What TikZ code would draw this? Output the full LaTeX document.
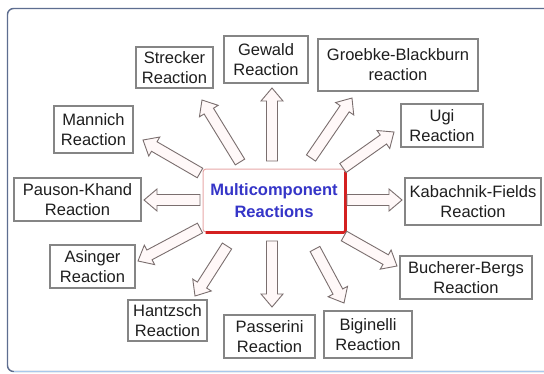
\documentclass[tikz,border=0pt]{standalone}
\usepackage{fontspec}
\setmainfont{Liberation Sans}
\usetikzlibrary{calc}
\definecolor{boxgray}{HTML}{858585}
\definecolor{txt}{HTML}{1E1E1E}
\definecolor{arrowline}{HTML}{7A6E6E}
\definecolor{arrowfill}{HTML}{FFF8F8}
\definecolor{mcblue}{HTML}{3535C8}
\definecolor{mcpink}{HTML}{E8A8A8}
\definecolor{mcred}{HTML}{D42020}
\definecolor{framec}{HTML}{5E6E90}
\definecolor{framelight}{HTML}{A9C8EC}
\newcommand\blockarr[2]{%
  \draw[blockarrow] let \p1=($(#2)-(#1)$), \n1={atan2(\y1,\x1)}, \n2={veclen(\x1,\y1)} in
  {[shift={(#1)}, rotate=\n1] (0pt,-5.5pt) -- (\n2-13pt,-5.5pt) -- (\n2-13pt,-11pt) -- (\n2,0pt)
   -- (\n2-13pt,11pt) -- (\n2-13pt,5.5pt) -- (0pt,5.5pt) -- cycle};}
\begin{document}
\begin{tikzpicture}[x=1pt,y=-1pt,
  rbox/.style={draw=boxgray, line width=1.2pt, fill=white, align=center, text=txt,
    inner sep=1pt, font=\fontsize{16.5}{20}\selectfont},
  blockarrow/.style={draw=arrowline, line width=0.9pt, fill=arrowfill, line join=miter},
  centerbox/.style={draw=mcpink, line width=1pt, fill=white, align=center, text=mcblue,
    rounded corners=3pt, inner sep=1pt, font=\fontsize{16.5}{22}\selectfont\bfseries}]
\useasboundingbox (0,0) rectangle (544,373);
\fill[white] (0,0) rectangle (544,373);
% outer frame
\draw[framec, line width=1.4pt, rounded corners=6pt] (7.5,8.5) rectangle (570,371.5);
\draw[framelight, line width=1.6pt] (14,371.5) -- (544,371.5);

% center
\node[centerbox, minimum width=142, minimum height=63] (mc) at (274,200.5) {Multicomponent\\Reactions};
\draw[mcred, line width=2.6pt, rounded corners=2pt] ([yshift=-3pt]mc.north east) -- ([xshift=0pt]mc.south east) -- ([xshift=3pt]mc.south west);

% boxes
\node[rbox, minimum width=77, minimum height=41] (strecker) at (174.5,67.5) {Strecker\\Reaction};
\node[rbox, minimum width=84, minimum height=47] (gewald) at (266,59.5) {Gewald\\Reaction};
\node[rbox, minimum width=160, minimum height=52] (groebke) at (398,65) {Groebke-Blackburn\\reaction};
\node[rbox, minimum width=82, minimum height=43] (ugi) at (442,125.5) {Ugi\\Reaction};
\node[rbox, minimum width=79, minimum height=47] (mannich) at (93.5,129.5) {Mannich\\Reaction};
\node[rbox, minimum width=127, minimum height=43] (pauson) at (77.5,199.5) {Pauson-Khand\\Reaction};
\node[rbox, minimum width=136, minimum height=47] (kabachnik) at (473,201.5) {Kabachnik-Fields\\Reaction};
\node[rbox, minimum width=132, minimum height=43] (bucherer) at (466,277.5) {Bucherer-Bergs\\Reaction};
\node[rbox, minimum width=85, minimum height=43] (asinger) at (92.5,266.5) {Asinger\\Reaction};
\node[rbox, minimum width=79, minimum height=41] (hantzsch) at (167.5,320.5) {Hantzsch\\Reaction};
\node[rbox, minimum width=91, minimum height=43] (passerini) at (269.5,336.5) {Passerini\\Reaction};
\node[rbox, minimum width=88, minimum height=47] (biginelli) at (368,334.5) {Biginelli\\Reaction};

% arrow ends
\coordinate (tStrecker) at (240,162);  \coordinate (hStrecker) at (202,100);
\coordinate (tGewald) at (272,161);    \coordinate (hGewald) at (272,88);
\coordinate (tGroebke) at (311,158);   \coordinate (hGroebke) at (352,98);
\coordinate (tUgi) at (343,168);       \coordinate (hUgi) at (394,132);
\coordinate (tMannich) at (200,173);   \coordinate (hMannich) at (143,140);
\coordinate (tPauson) at (200,200);    \coordinate (hPauson) at (144,200);
\coordinate (tKab) at (347,200);       \coordinate (hKab) at (402,200);
\coordinate (tBuch) at (344,236);      \coordinate (hBuch) at (397,266);
\coordinate (tAsinger) at (200,228);   \coordinate (hAsinger) at (138,261);
\coordinate (tHantzsch) at (227,246);  \coordinate (hHantzsch) at (195,296);
\coordinate (tPass) at (272,241);      \coordinate (hPass) at (272,307);
\coordinate (tBig) at (315,249);       \coordinate (hBig) at (344,303);

\blockarr{tStrecker}{hStrecker}
\blockarr{tGewald}{hGewald}
\blockarr{tGroebke}{hGroebke}
\blockarr{tUgi}{hUgi}
\blockarr{tMannich}{hMannich}
\blockarr{tPauson}{hPauson}
\blockarr{tKab}{hKab}
\blockarr{tBuch}{hBuch}
\blockarr{tAsinger}{hAsinger}
\blockarr{tHantzsch}{hHantzsch}
\blockarr{tPass}{hPass}
\blockarr{tBig}{hBig}
\end{tikzpicture}
\end{document}
